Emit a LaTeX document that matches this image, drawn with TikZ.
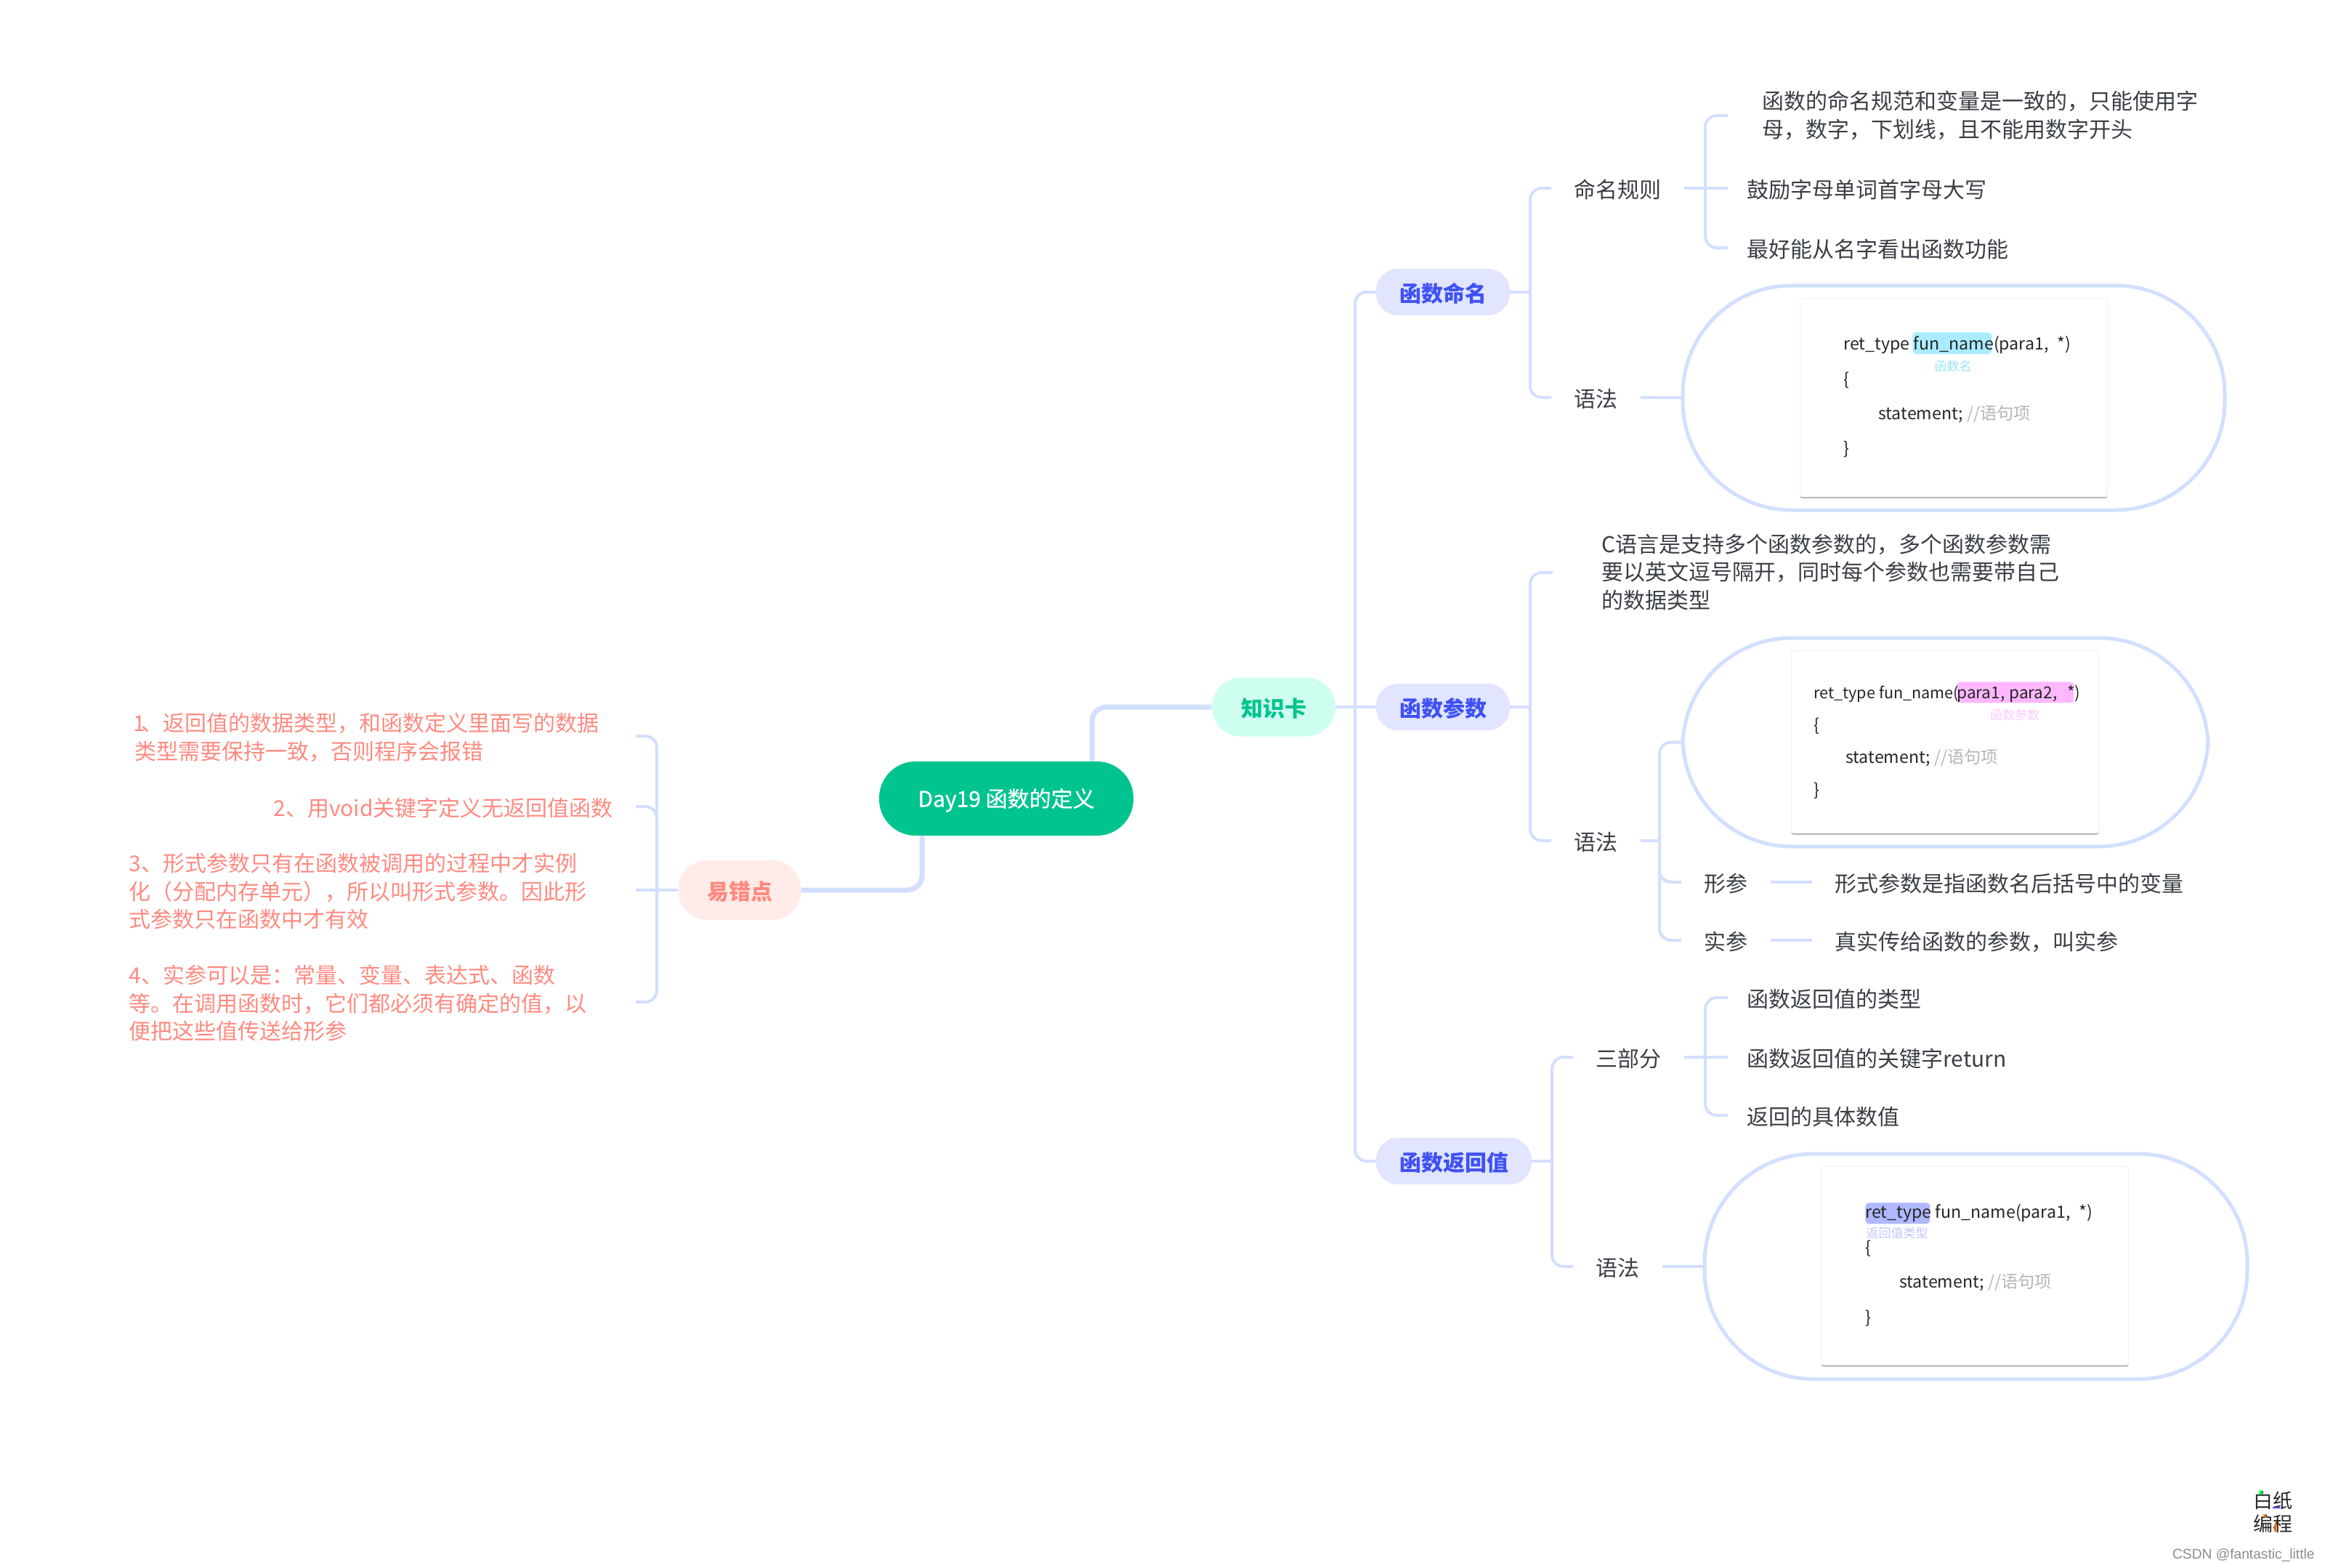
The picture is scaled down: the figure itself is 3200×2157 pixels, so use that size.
\documentclass[tikz,border=0pt]{standalone}
\usepackage{fontspec}
\setmainfont{Noto Sans CJK SC}
\newfontfamily\wmfont{Liberation Sans}
\newfontfamily\medfont[FakeBold=0.5]{Noto Sans CJK SC}
\usetikzlibrary{shadows}
\definecolor{linec}{HTML}{D2DFFF}
\definecolor{rootc}{HTML}{00C48F}
\definecolor{greenbg}{HTML}{CFFFF1}
\definecolor{bluebg}{HTML}{E1E5FF}
\definecolor{bluetx}{HTML}{3F51F5}
\definecolor{redbg}{HTML}{FFECE9}
\definecolor{redtx}{HTML}{FF8A80}
\definecolor{bodytx}{HTML}{3A3F45}
\definecolor{cmt}{HTML}{B5B5B5}
\definecolor{hlcyan}{HTML}{AAECFF}
\definecolor{hlpink}{HTML}{FFB8FF}
\definecolor{hlblue}{HTML}{B0B8FF}
\definecolor{tagcyan}{HTML}{9BE3F9}
\definecolor{tagpink}{HTML}{FFC8FF}
\definecolor{tagblue}{HTML}{C0C6FF}
\tikzset{
  lower text/.style={execute at begin node={\rule{0pt}{15pt}},execute at end node={\rule[-2pt]{0pt}{0pt}}},
  cn/.style={draw=linec,line width=2pt,rounded corners=8pt},
  cnb/.style={draw=linec,line width=3.5pt,rounded corners=10pt},
  topic/.style={rectangle,rounded corners=15pt,font=\fontsize{15}{18}\bfseries,inner sep=0pt,minimum height=32pt,lower text},
  txt/.style={anchor=west,font=\fontsize{15}{19.25}\selectfont,text=bodytx,inner xsep=15.5pt,inner ysep=0pt,align=left,lower text},
  kid/.style={txt,inner xsep=13pt},
  warn/.style={anchor=east,font=\fontsize{15}{19.25}\selectfont,text=redtx,inner sep=0pt,align=left,lower text},
  pill/.style={rectangle,draw=linec,line width=2.5pt,rounded corners=75pt,anchor=west,inner sep=0pt,outer sep=0pt,fill=white},
  card/.style={rectangle,fill=white,draw=black!5,line width=.5pt,rounded corners=1.5pt,anchor=north west,inner sep=0pt,
    minimum width=211.5pt,minimum height=136.5pt,drop shadow={shadow xshift=0pt,shadow yshift=-1.2pt,fill=black!35,opacity=.8}},
  code/.style={anchor=west,font=\fontsize{11.6}{14}\selectfont,text=black!85,inner sep=0pt,text height=11pt,text depth=3pt},
  codeb/.style={code,font=\fontsize{11.3}{14}\selectfont},
  codec/.style={code,font=\fontsize{10.8}{14}\selectfont},
  hl/.style={rectangle,rounded corners=2.5pt,anchor=north west,inner sep=0pt},
  tag/.style={font=\fontsize{8.5}{10}\selectfont,inner sep=0pt},
}
\begin{document}
\begin{tikzpicture}[x=0.5pt,y=-0.5pt]
\useasboundingbox (0,0) rectangle (3200,2157);

% Main topics
\node[rectangle,rounded corners=25pt,fill=rootc,text=white,font=\fontsize{15}{18}\medfont,minimum width=175pt,minimum height=51pt,inner sep=0pt,lower text] (root) at (1385,1099) {Day19 函数的定义};
\node[topic,fill=greenbg,text=rootc,minimum width=85pt,minimum height=40.5pt,rounded corners=20pt] (zs) at (1753,973) {知识卡};
\node[topic,fill=redbg,text=redtx,minimum width=84.5pt,minimum height=41pt,rounded corners=20pt] (yc) at (1018,1225) {易错点};
\node[topic,fill=bluebg,text=bluetx,minimum width=92pt] (mm) at (1986,402) {函数命名};
\node[topic,fill=bluebg,text=bluetx,minimum width=92pt] (mp) at (1986,973) {函数参数};
\node[topic,fill=bluebg,text=bluetx,minimum width=107pt] (fh) at (2001,1598) {函数返回值};

% Left notes
\node[warn,text width=344.5pt] (w1) at (875,1013) {\hspace{-1pt}1\kern-3pt、返回值的数据类型，和函数定义里面写的数据\\类型需要保持一致，否则程序会报错};
\node[warn,text width=249pt] (w2) at (875,1110) {2、用void关键字定义无返回值函数};
\node[warn,text width=348.5pt] (w3) at (875,1225) {3、形式参数只有在函数被调用的过程中才实例\\化（分配内存单元），所以叫形式参数。因此形\\式参数只在函数中才有效};
\node[warn,text width=348.5pt] (w4) at (875,1379) {4、实参可以是：常量、变量、表达式、函数\\等。在调用函数时，它们都必须有确定的值，以\\便把这些值传送给形参};

% Section 1
\node[txt] (rule) at (2135,259) {命名规则};
\node[txt] (yf1) at (2135,547) {语法};
\node[kid,inner xsep=23.5pt] (r1) at (2378,159) {函数的命名规范和变量是一致的，只能使用字\\母，数字，下划线，且不能用数字开头};
\node[kid] (r2) at (2378,259) {鼓励字母单词首字母大写};
\node[kid] (r3) at (2378,341) {最好能从名字看出函数功能};
\node[pill,minimum width=373pt,minimum height=154.5pt] (p1) at (2316,547.5) {};
\node[card] (c1) at (2477,410) {};
\node[hl,fill=hlcyan,minimum width=54.5pt,minimum height=15pt] (h1) at (2632,457) {};
\node[code] (c1a) at (2537,473) {ret\_type fun\_name(para1,\hspace{.5em}*)};
\node[tag,text=tagcyan] (t1) at (2688,504) {函数名};
\node[code] (c1b) at (2537,522) {\{};
\node[code] (c1c) at (2585,569) {statement; \textcolor{cmt}{//语句项}};
\node[code] (c1d) at (2537,617) {\}};

% Section 2
\node[txt,inner xsep=33.5pt] (cl) at (2137,788) {C语言是支持多个函数参数的，多个函数参数需\\要以英文逗号隔开，同时每个参数也需要带自己\\的数据类型};
\node[txt] (yf2) at (2135,1157) {语法};
\node[pill,minimum width=361.5pt,minimum height=143.5pt] (p2) at (2316,1021.5) {};
\node[card,minimum height=125.5pt] (c2) at (2465,895) {};
\node[hl,fill=hlpink,minimum width=80.5pt,minimum height=14.5pt] (h2) at (2693,938) {};
\node[codec] (c2a) at (2496,953) {ret\_type fun\_name(};
\node[codeb] (c2e) at (2693,953) {para1,};
\node[codeb] (c2f) at (2765,953) {para2,};
\node[codeb] (c2g) at (2845,953) {*)};
\node[tag,text=tagpink] (t2) at (2773,984) {函数参数};
\node[code] (c2b) at (2496,998) {\{};
\node[code] (c2c) at (2540,1042) {statement; \textcolor{cmt}{//语句项}};
\node[code] (c2d) at (2496,1087) {\}};
\node[txt] (xc) at (2314,1214) {形参};
\node[txt] (sc) at (2314,1294) {实参};
\node[txt] (xd) at (2494,1214) {形式参数是指函数名后括号中的变量};
\node[txt] (sd) at (2494,1294) {真实传给函数的参数，叫实参};

% Section 3
\node[txt] (sb) at (2165,1455) {三部分};
\node[txt] (yf3) at (2165,1743) {语法};
\node[kid] (s1) at (2378,1373) {函数返回值的类型};
\node[kid] (s2) at (2378,1455) {函数返回值的关键字return};
\node[kid] (s3) at (2378,1535) {返回的具体数值};
\node[pill,minimum width=373.5pt,minimum height=155pt] (p3) at (2346,1743) {};
\node[card] (c3) at (2506,1605) {};
\node[hl,fill=hlblue,minimum width=44.5pt,minimum height=14.5pt] (h3) at (2567,1655) {};
\node[code] (c3a) at (2567,1668) {ret\_type fun\_name(para1,\hspace{.5em}*)};
\node[tag,text=tagblue] (t3) at (2611,1697) {返回值类型};
\node[code] (c3b) at (2567,1717) {\{};
\node[code] (c3c) at (2614,1764) {statement; \textcolor{cmt}{//语句项}};
\node[code] (c3d) at (2567,1813) {\}};

% Junctions
\coordinate (hub) at (1865,973);
\coordinate (jl) at (904,1225);
\coordinate (j1) at (2106,402);
\coordinate (j2) at (2347,259);
\coordinate (j3) at (2106,973);
\coordinate (j4) at (2284,1157);
\coordinate (j5) at (2136,1598);
\coordinate (j6) at (2347,1455);

% Connectors
\draw[cnb] (zs.west) -| ([xshift=59pt]root.north);
\draw[cnb] (yc.east) -| ([xshift=-58pt]root.south);
\draw[cn] (zs.east) -- (mp.west);
\draw[cn] (hub) |- (mm.west);
\draw[cn] (hub) |- (fh.west);
\draw[cn] (yc.west) -- (jl);
\draw[cn] (jl) |- (w1.east);
\draw[cn] (jl) |- (w2.east);
\draw[cn] (jl) -- (w3.east);
\draw[cn] (jl) |- (w4.east);
\draw[cn] (mm.east) -- (j1);
\draw[cn] (j1) |- (rule.west);
\draw[cn] (j1) |- (yf1.west);
\draw[cn] (rule.east) -- (j2);
\draw[cn] (j2) |- (r1.west);
\draw[cn] (j2) -- (r2.west);
\draw[cn] (j2) |- (r3.west);
\draw[cn] (yf1.east) -- (p1.west);
\draw[cn] (mp.east) -- (j3);
\draw[cn] (j3) |- (cl.west);
\draw[cn] (j3) |- (yf2.west);
\draw[cn] (yf2.east) -- (j4);
\draw[cn] (j4) |- (p2.west);
\draw[cn] (j4) |- (xc.west);
\draw[cn] (j4) |- (sc.west);
\draw[cn] (xc.east) -- (xd.west);
\draw[cn] (sc.east) -- (sd.west);
\draw[cn] (fh.east) -- (j5);
\draw[cn] (j5) |- (sb.west);
\draw[cn] (j5) |- (yf3.west);
\draw[cn] (sb.east) -- (j6);
\draw[cn] (j6) |- (s1.west);
\draw[cn] (j6) -- (s2.west);
\draw[cn] (j6) |- (s3.west);
\draw[cn] (yf3.east) -- (p3.west);

% Logo and watermark
\node[font=\fontsize{13.5}{16}\selectfont,text=black!85,align=center,inner sep=0pt] (logo) at (3128,2081) {白纸\\编程};
\fill[green!70!cyan] (3110,2051) -- (3114,2051) -- (3113,2057) -- (3109,2057) -- cycle;
\fill[blue!70!white] (3128,2074) rectangle (3138,2076);
\fill[orange] (3114,2084) -- (3117,2084) -- (3120,2089) -- (3118,2089) -- cycle;
\fill[orange!80!red] (3130,2100) -- (3133,2092) -- (3133,2108) -- (3130,2108) -- cycle;
\node[font=\wmfont\fontsize{9.6}{12}\selectfont,text=black!45,inner sep=0pt,anchor=east] (wm) at (3186,2140) {CSDN @fantastic\_little};
\end{tikzpicture}
\end{document}
